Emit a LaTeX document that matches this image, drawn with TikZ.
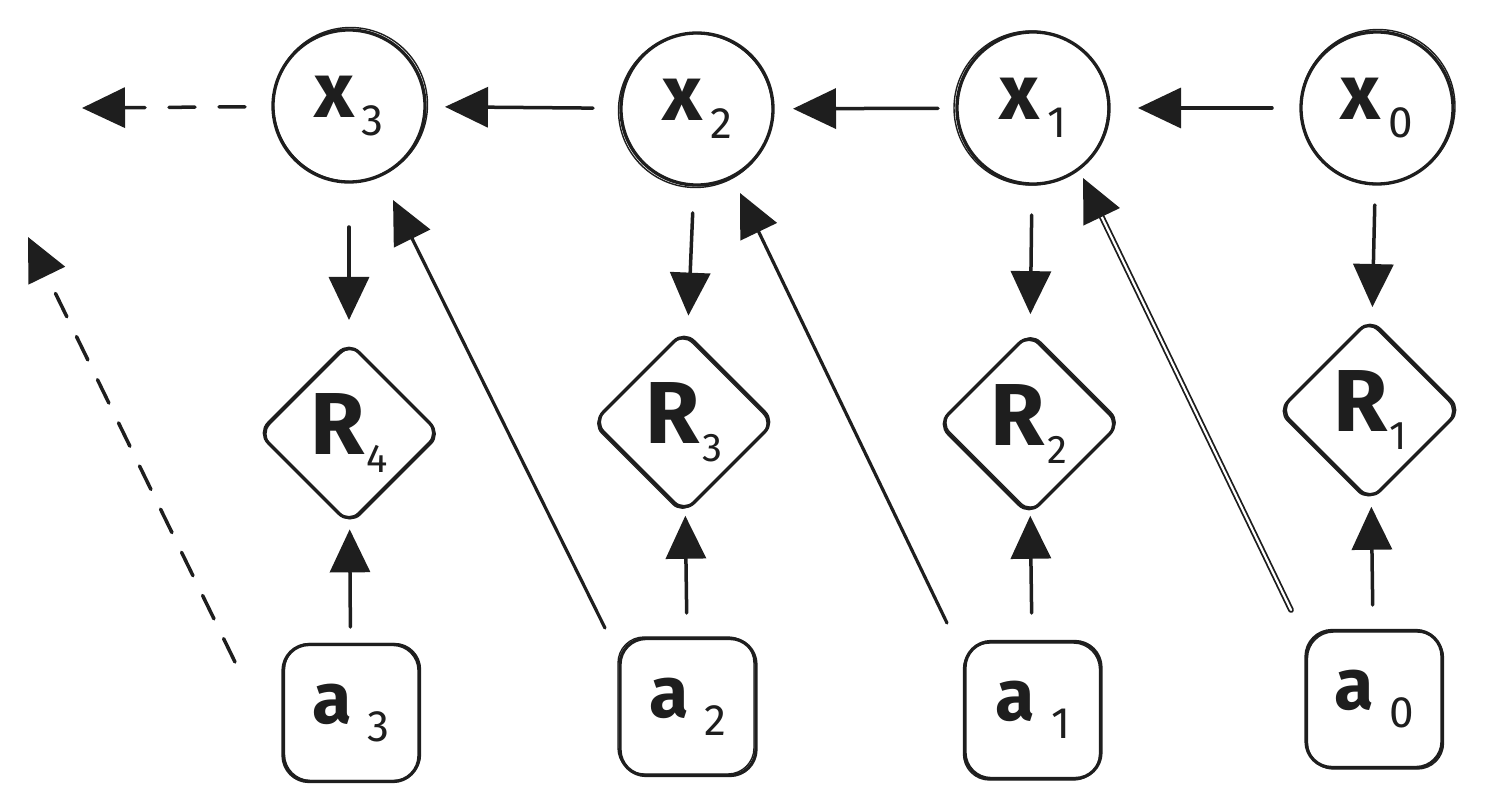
\documentclass[tikz,border=0pt]{standalone}
\usepackage{fontspec}
\setmainfont{Fira Sans}
\usetikzlibrary{arrows.meta,shapes.geometric,calc}
\definecolor{ink}{HTML}{1E1E1E}
\newcommand{\lblx}[1]{{\fontsize{78}{78}\selectfont\bfseries x}\hspace{8pt}\raisebox{-18pt}{\fontsize{44}{44}\selectfont #1}}
\newcommand{\lblr}[1]{{\fontsize{88}{88}\selectfont\bfseries R}\hspace{2pt}\raisebox{-18pt}{\fontsize{40}{40}\selectfont #1}}
\newcommand{\lbla}[1]{{\fontsize{72}{72}\selectfont\bfseries a}\hspace{16pt}\raisebox{-18pt}{\fontsize{44}{44}\selectfont #1}}
\begin{document}
\begin{tikzpicture}[x=1pt,y=-1pt,line join=round,line cap=round,
  shapeb/.style={draw=ink,line width=3.3pt,inner sep=0pt,outer sep=0pt},
  circ/.style={shapeb,circle,minimum size=152pt},
  dia/.style={shapeb,diamond,aspect=1,minimum width=181pt,minimum height=181pt,rounded corners=14pt},
  box/.style={shapeb,rectangle,minimum width=136pt,minimum height=137pt,rounded corners=26pt},
  sk/.style={draw=ink,line width=1.4pt},
  arr/.style={draw=ink,line width=3.5pt,-{Triangle[length=43pt,width=40pt]}},
  darr/.style={arr,dash pattern=on 26pt off 24pt},
  dbl/.style={arr,double=white,double distance=2.2pt,line width=1.8pt},
  lbl/.style={text=ink,inner sep=0pt,outer sep=0pt}]
\useasboundingbox (0,0) rectangle (1491,810);
% states
\node[circ] (x3) at (349,106) {};
\node[circ] (x2) at (697,109) {};
\node[circ] (x1) at (1033,108) {};
\node[circ] (x0) at (1377,108) {};
% rewards
\node[dia] (R4) at (349,433) {};
\node[dia] (R3) at (684,422) {};
\node[dia] (R2) at (1029,424) {};
\node[dia] (R1) at (1370,410) {};
% actions
\node[box] (a3) at (351,713) {};
\node[box] (a2) at (688,707) {};
\node[box] (a1) at (1033,710) {};
\node[box] (a0) at (1374,699) {};
% sketchy second strokes
\foreach \n/\dx/\dy in {x3/1.5/-1.5,x2/-1.5/1.5,x1/-2/0,x0/1/-1.5}
  \draw[sk] ($(\n)+(\dx,\dy)$) circle (77);
\foreach \n/\dx/\dy in {R4/1.5/1,R3/-1.5/1.5,R2/1.5/-1.5,R1/-2/1}
  \draw[sk,rounded corners=14pt] ($(\n.north)+(\dx,\dy)$) -- ($(\n.east)+(\dx,\dy)$) -- ($(\n.south)+(\dx,\dy)$) -- ($(\n.west)+(\dx,\dy)$) -- cycle;
\foreach \n/\dx/\dy in {a3/1.5/-1,a2/-2/-1.5,a1/-1.5/1.5,a0/1.5/1.5}
  \draw[sk,rounded corners=26pt] ($(\n.north west)+(\dx,\dy)$) rectangle ($(\n.south east)+(\dx,\dy)$);
% labels
\node[lbl] (x3t) at (x3) {\lblx{3}};
\node[lbl] (x2t) at (x2) {\lblx{2}};
\node[lbl] (x1t) at (x1) {\lblx{1}};
\node[lbl] (x0t) at (x0) {\lblx{0}};
\node[lbl] (R4t) at (R4) {\lblr{4}};
\node[lbl] (R3t) at (R3) {\lblr{3}};
\node[lbl] (R2t) at (R2) {\lblr{2}};
\node[lbl] (R1t) at (R1) {\lblr{1}};
\node[lbl] (a3t) at (a3) {\lbla{3}};
\node[lbl] (a2t) at (a2) {\lbla{2}};
\node[lbl] (a1t) at (a1) {\lbla{1}};
\node[lbl] (a0t) at (a0) {\lbla{0}};
% free ends
\coordinate (hend) at (82,108);
\coordinate (dend) at (28,237);
% state transitions
\draw[arr,shorten <=29pt,shorten >=29pt] (x0) -- (x1);
\draw[arr,shorten <=19pt,shorten >=20pt] (x1) -- (x2);
\draw[arr,shorten <=28pt,shorten >=20pt] (x2) -- (x3);
\draw[darr,shorten <=28pt] (x3) -- (hend);
% state to reward
\draw[arr,shorten <=45pt,shorten >=22.5pt] (x3) -- (R4);
\draw[arr,shorten <=28pt,shorten >=19.5pt] (x2) -- (R3);
\draw[arr,shorten <=31pt,shorten >=20.5pt] (x1) -- (R2);
\draw[arr,shorten <=21pt,shorten >=14.5pt] (x0) -- (R1);
% action to reward
\draw[arr,shorten <=17.5pt,shorten >=6.5pt] (a3) -- (R4);
\draw[arr,shorten <=25.5pt,shorten >=4.5pt] (a2) -- (R3);
\draw[arr,shorten <=28.5pt,shorten >=2.5pt] (a1) -- (R2);
\draw[arr,shorten <=25.5pt,shorten >=7.5pt] (a0) -- (R1);
% action to next state
\draw[arr,line width=3.2pt] ($(a2.north west)+(-15,-10.5)$) -- ($(x3.south east)+(-9.7,40.3)$);
\draw[arr,line width=3.2pt] ($(a1.north west)+(-18,-18.5)$) -- ($(x2.south east)+(-10.7,30.3)$);
\draw[dbl] ($(a0.north west)+(-15,-20.5)$) -- ($(x1.south east)+(-3.7,16.3)$);
\draw[darr,dash pattern=on 26pt off 22pt] ($(a3.north west)+(-48,17.5)$) -- (dend);
\end{tikzpicture}
\end{document}
